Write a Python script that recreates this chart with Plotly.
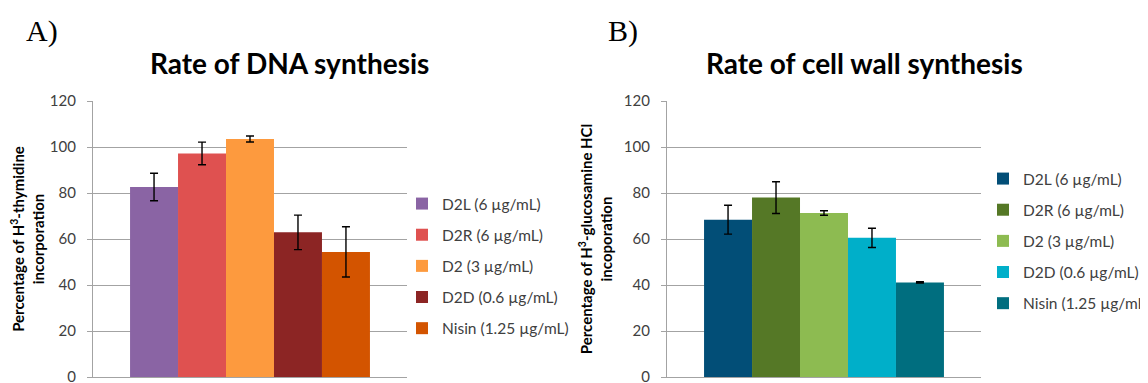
import plotly.graph_objects as go

# ---- data ----
treatments = ["D2L (6 µg/mL)", "D2R (6 µg/mL)", "D2 (3 µg/mL)", "D2D (0.6 µg/mL)", "Nisin (1.25 µg/mL)"]
dna_values = [82.6, 97.2, 103.5, 62.9, 54.4]
dna_errors = [6.0, 4.9, 1.3, 7.5, 10.9]
wall_values = [68.4, 78.0, 71.3, 60.5, 41.1]
wall_errors = [6.3, 6.9, 1.0, 4.2, 0.3]
dna_colors = ["#8A64A4", "#DF5150", "#FD9A3E", "#8C2524", "#D35400"]
wall_colors = ["#024E77", "#557826", "#8DBB51", "#00AFC9", "#006E7F"]
y_ticks = [0, 20, 40, 60, 80, 100, 120]

WIN_W, WIN_H = 1148, 383
OFF = 8  # default page body margin
W, H = WIN_W - OFF, WIN_H - OFF
FONT = "Lato"
GRID = "#a3a3a3"
TXT = "#404040"

fig = go.Figure()

for i, name in enumerate(treatments):
    fig.add_trace(go.Bar(
        x=[""], y=[dna_values[i]], name=name,
        marker=dict(color=dna_colors[i], line=dict(width=0)),
        error_y=dict(type="data", array=[dna_errors[i]], color="black", thickness=1.4, width=4),
        xaxis="x", yaxis="y", legend="legend", legendgroup="a%d" % i,
    ))
for i, name in enumerate(treatments):
    fig.add_trace(go.Bar(
        x=[""], y=[wall_values[i]], name=name,
        marker=dict(color=wall_colors[i], line=dict(width=0)),
        error_y=dict(type="data", array=[wall_errors[i]], color="black", thickness=1.4, width=4),
        xaxis="x2", yaxis="y2", legend="legend2", legendgroup="b%d" % i,
    ))

def px_x(p):
    # window pixel -> paper fraction
    return (p - OFF) / W

def px_y(p):
    return (H - (p - OFF)) / H

yd = [px_y(377), px_y(101)]
xa_dom = [px_x(93), px_x(407)]
xb_dom = [px_x(667), px_x(981)]

yaxis_common = dict(
    range=[0, 120], tickvals=y_ticks, showgrid=True, gridcolor=GRID, gridwidth=1.3,
    showline=True, linecolor=GRID, linewidth=1.3, ticks="outside", ticklen=5,
    tickcolor=GRID, tickwidth=1.3, ticklabelstandoff=8, zeroline=False,
    ticklabeloverflow="allow",
    tickfont=dict(family=FONT, size=15, color=TXT), domain=yd,
)
xaxis_common = dict(
    showticklabels=False, showgrid=False, showline=True, linecolor=GRID,
    linewidth=1.3, ticks="", zeroline=False, fixedrange=True,
)
axis_title_font = dict(family=FONT, size=15, color="black", weight="bold")

fig.update_layout(
    width=W, height=H,
    margin=dict(l=0, r=0, t=0, b=0, autoexpand=False),
    paper_bgcolor="white", plot_bgcolor="white",
    barmode="group", bargap=0.236, bargroupgap=0,
    showlegend=True,
    xaxis=dict(domain=xa_dom, anchor="y", **xaxis_common),
    xaxis2=dict(domain=xb_dom, anchor="y2", **xaxis_common),
    yaxis=dict(anchor="x", title=dict(
        text="Percentage of H<sup>3</sup>-thymidine<br>incorporation",
        font=axis_title_font, standoff=7),
        **yaxis_common),
    yaxis2=dict(anchor="x2", title=dict(
        text="Percentage of H<sup>3</sup>-glucosamine HCl<br>incoporation",
        font=axis_title_font, standoff=7),
        **yaxis_common),
    legend=dict(x=px_x(402), y=px_y(187), xanchor="left", yanchor="top",
                font=dict(family=FONT, size=15.5, color=TXT), tracegroupgap=8,
                bgcolor="rgba(0,0,0,0)", itemwidth=30),
    legend2=dict(x=px_x(983), y=px_y(162), xanchor="left", yanchor="top",
                 font=dict(family=FONT, size=15.5, color=TXT), tracegroupgap=8,
                 bgcolor="rgba(0,0,0,0)", itemwidth=30),
    annotations=[
        dict(text="A)", x=px_x(24), y=px_y(31), xref="paper", yref="paper",
             xanchor="left", yanchor="middle", showarrow=False,
             font=dict(family="Liberation Serif", size=30, color="black")),
        dict(text="B)", x=px_x(606), y=px_y(31), xref="paper", yref="paper",
             xanchor="left", yanchor="middle", showarrow=False,
             font=dict(family="Liberation Serif", size=30, color="black")),
        dict(text="<b>Rate of DNA synthesis</b>", x=px_x(289), y=px_y(63),
             xref="paper", yref="paper", xanchor="center", yanchor="middle",
             showarrow=False, font=dict(family=FONT, size=28, color="black")),
        dict(text="<b>Rate of cell wall synthesis</b>", x=px_x(864), y=px_y(63),
             xref="paper", yref="paper", xanchor="center", yanchor="middle",
             showarrow=False, font=dict(family=FONT, size=28, color="black")),
    ],
)

fig.write_html("out.html")
